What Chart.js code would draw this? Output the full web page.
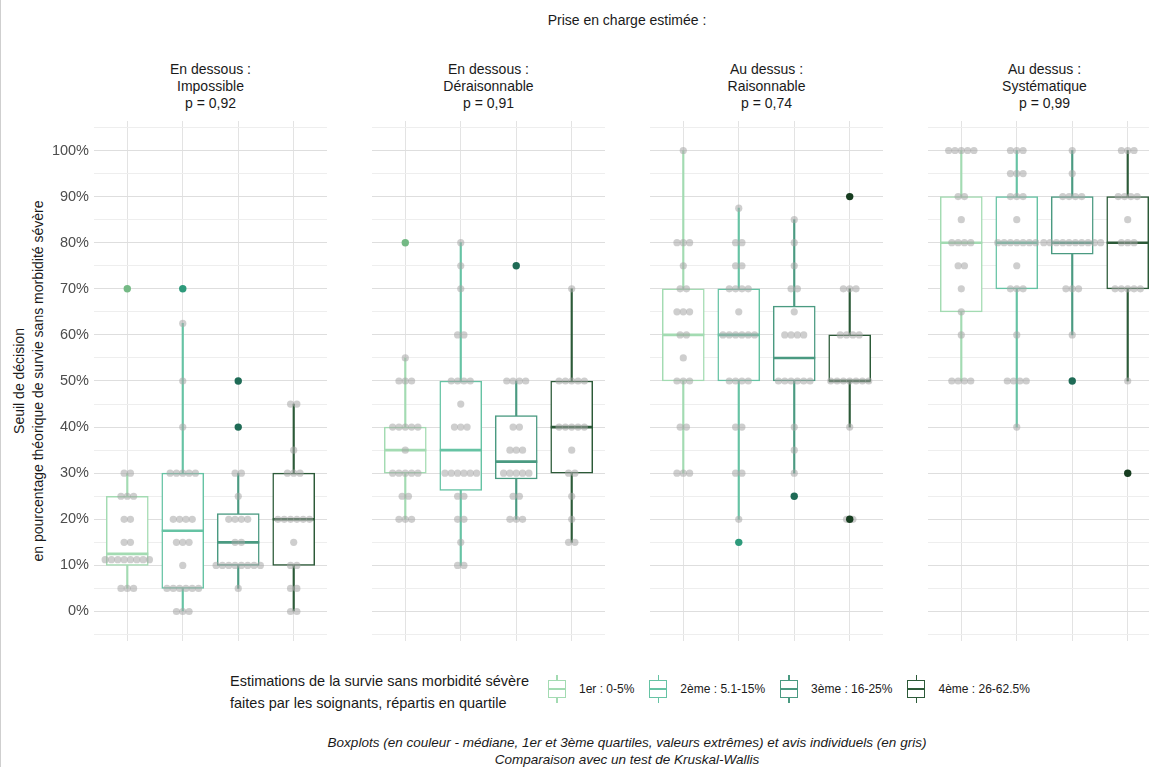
<!DOCTYPE html>
<html>
<head>
<meta charset="utf-8">
<script src="https://cdn.jsdelivr.net/npm/chart.js@4.4.1/dist/chart.umd.min.js"></script>
<style>
  html, body { margin: 0; padding: 0; }
  body {
    width: 1149px; height: 767px; overflow: hidden; position: relative;
    background: #fff; font-family: "Liberation Sans", Arial, sans-serif; color: #1a1a1a;
    border-left: 1px solid #cfcfcf; box-sizing: border-box;
  }
  canvas { position: absolute; top: 121px; }
  .txt { position: absolute; white-space: nowrap; }
  #title { left: 0; width: 1252px; top: 11px; text-align: center; font-size: 14px; line-height: 18px; }
  .strip { top: 61px; width: 233px; text-align: center; font-size: 14px; line-height: 17px; }
  #ytitle {
    left: 28px; top: 381px; font-size: 14px; line-height: 19px; text-align: center;
    transform: translate(-50%, -50%) rotate(-90deg);
  }
  #legtitle { left: 229px; top: 670px; font-size: 14.5px; line-height: 22px; }
  #legend { position: absolute; left: 547px; top: 674px; display: flex; align-items: center; height: 30px; white-space: nowrap; }
  .item { display: flex; align-items: center; margin-right: 15px; flex-shrink: 0; }
  .key { position: relative; width: 18px; min-width: 18px; height: 30px; margin-right: 13px; flex-shrink: 0; }
  .key .wh { position: absolute; left: 8.25px; width: 1.5px; top: 1px; bottom: 1px; }
  .key .bx { position: absolute; left: 0; right: 0; top: 6px; height: 18px; box-sizing: border-box; border: 1.5px solid; background: #fff; }
  .key .md { position: absolute; left: 0; right: 0; top: 14px; height: 2px; }
  .item span { font-size: 12px; color: #1a1a1a; }
  #caption { left: 0; width: 1252px; top: 734px; text-align: center; font-size: 13.5px; line-height: 17px; font-style: italic; }
</style>
</head>
<body>
<div id="title" class="txt">Prise en charge estimée :</div>
<div id="ytitle" class="txt">Seuil de décision<br>en pourcentage théorique de survie sans morbidité sévère</div>
<div id="legtitle" class="txt">Estimations de la survie sans morbidité sévère<br>faites par les soignants, répartis en quartile</div>
<div id="legend"></div>
<div id="caption" class="txt">Boxplots (en couleur - médiane, 1er et 3ème quartiles, valeurs extrêmes) et avis individuels (en gris)<br>Comparaison avec un test de Kruskal-Wallis</div>
<canvas id="panel0" width="326" height="520" style="left:0px"></canvas>
<canvas id="panel1" width="233" height="520" style="left:371px"></canvas>
<canvas id="panel2" width="233" height="520" style="left:649px"></canvas>
<canvas id="panel3" width="233" height="520" style="left:927px"></canvas>
<script>
// Groupes (quartiles d'estimation) et panneaux
const quartileLabels = ['1er : 0-5%', '2ème : 5.1-15%', '3ème : 16-25%', '4ème : 26-62.5%'];
const panelTitles = [['En dessous :', 'Impossible'], ['En dessous :', 'Déraisonnable'], ['Au dessus :', 'Raisonnable'], ['Au dessus :', 'Systématique']];
const pValues = ['p = 0,92', 'p = 0,91', 'p = 0,74', 'p = 0,99'];
const yTickValues = [0, 10, 20, 30, 40, 50, 60, 70, 80, 90, 100];

// Statistiques des boxplots : une ligne par panneau, une valeur par quartile
const whiskerLow  = [[5, 0, 5, 0], [20, 10, 20, 15], [30, 20, 30, 40], [50, 40, 60, 50]];
const q1          = [[10, 5, 10, 10], [30, 26.25, 28.75, 30], [50, 50, 50, 50], [65, 70, 77.5, 70]];
const median      = [[12.5, 17.5, 15, 20], [35, 35, 32.5, 40], [60, 60, 55, 50], [80, 80, 80, 80]];
const q3          = [[25, 30, 21.25, 30], [40, 50, 42.5, 50], [70, 70, 66.25, 60], [90, 90, 90, 90]];
const whiskerHigh = [[30, 62.5, 30, 45], [55, 80, 50, 70], [100, 87.5, 85, 70], [100, 100, 100, 100]];
const outliers    = [[[70], [70], [50, 40], []], [[80], [], [75], []], [[], [15], [25], [90, 20]], [[], [], [50], [30]]];

// Avis individuels : [valeur, nombre d'avis]
const dotsImpossible = [
  [[30, 2], [25, 3], [20, 2], [15, 2], [11.25, 8], [5, 3]],
  [[62.5, 1], [50, 1], [40, 1], [30, 5], [20, 4], [15, 3], [10, 1], [5, 6], [0, 3]],
  [[30, 2], [25, 1], [20, 4], [15, 2], [10, 8], [5, 1]],
  [[45, 2], [35, 1], [30, 3], [20, 6], [15, 1], [10, 2], [5, 2], [0, 2]]
];
const dotsDeraisonnable = [
  [[55, 1], [50, 3], [40, 5], [35, 1], [30, 5], [25, 2], [20, 3]],
  [[80, 1], [75, 1], [70, 1], [60, 2], [50, 4], [45, 1], [40, 3], [30, 6], [25, 2], [20, 2], [15, 1], [10, 2]],
  [[50, 4], [40, 2], [35, 3], [30, 5], [25, 2], [20, 3]],
  [[70, 1], [50, 5], [40, 5], [35, 1], [30, 2], [25, 1], [20, 1], [15, 2]]
];
const dotsRaisonnable = [
  [[100, 1], [80, 3], [75, 1], [70, 2], [65, 3], [60, 2], [55, 1], [50, 3], [40, 2], [30, 3]],
  [[87.5, 1], [80, 2], [75, 2], [70, 4], [65, 1], [60, 6], [50, 4], [40, 2], [30, 2], [20, 1]],
  [[85, 1], [80, 1], [75, 1], [70, 2], [65, 1], [60, 4], [50, 6], [40, 1], [35, 1], [30, 1]],
  [[70, 3], [60, 4], [50, 7], [40, 1], [20, 2]]
];
const dotsSystematique = [
  [[100, 5], [90, 2], [85, 1], [80, 4], [75, 2], [70, 1], [65, 1], [60, 1], [50, 4]],
  [[100, 3], [95, 3], [90, 3], [85, 1], [80, 7], [75, 1], [70, 3], [60, 1], [50, 4], [40, 1]],
  [[100, 1], [95, 1], [90, 4], [80, 10], [70, 3], [60, 1]],
  [[100, 3], [90, 4], [85, 1], [80, 3], [70, 5], [50, 1]]
];
const allDots = [dotsImpossible, dotsDeraisonnable, dotsRaisonnable, dotsSystematique];

const boxColors = ['#a3dbb2', '#66c3a4', '#4a9a81', '#2c5a38'];
const outlierColors = ['#74b985', '#2e9a7b', '#1f6b56', '#173d20'];
const panelLefts = [93, 371, 649, 927];
const font = '"Liberation Sans", Arial, sans-serif';
const dotStep = 0.114; // écart horizontal entre avis empilés (unités de l'axe x)

// Titres des panneaux
panelTitles.forEach((t, p) => {
  const div = document.createElement('div');
  div.className = 'txt strip';
  div.style.left = panelLefts[p] + 'px';
  div.innerHTML = t[0] + '<br>' + t[1] + '<br>' + pValues[p];
  document.body.appendChild(div);
});

// Légende
const legend = document.getElementById('legend');
quartileLabels.forEach((label, g) => {
  const item = document.createElement('div');
  item.className = 'item';
  const c = boxColors[g];
  item.innerHTML = `<div class="key"><div class="wh" style="background:${c}"></div>` +
    `<div class="bx" style="border-color:${c}"></div><div class="md" style="background:${c}"></div></div>` +
    `<span>${label}</span>`;
  legend.appendChild(item);
});

function buildPanel(p) {
  const ctx = document.getElementById('panel' + p).getContext('2d');
  const groups = [1, 2, 3, 4];

  const dotPoints = [];
  allDots[p].forEach((stacks, g) => {
    stacks.forEach(([v, n]) => {
      for (let i = 0; i < n; i++) {
        dotPoints.push({ x: g + 1 + (i - (n - 1) / 2) * dotStep, y: v });
      }
    });
  });

  const outPoints = [];
  const outColors = [];
  outliers[p].forEach((vals, g) => {
    vals.forEach(v => { outPoints.push({ x: g + 1, y: v }); outColors.push(outlierColors[g]); });
  });

  new Chart(ctx, {
    type: 'bar',
    data: {
      datasets: [
        {
          type: 'scatter',
          data: outPoints,
          pointRadius: 3.7,
          pointBackgroundColor: outColors,
          pointBorderWidth: 0,
          order: 0
        },
        {
          type: 'scatter',
          data: dotPoints,
          pointRadius: 3.6,
          pointBackgroundColor: 'rgba(165,165,165,0.55)',
          pointBorderWidth: 0,
          order: 1
        },
        {
          type: 'scatter',
          data: groups.map((x, g) => ({ x: x, y: median[p][g] })),
          pointStyle: 'line',
          pointRadius: 21,
          pointBorderWidth: 2.6,
          pointBorderColor: boxColors,
          order: 2
        },
        {
          type: 'bar',
          data: groups.map((x, g) => ({ x: x, y: [q1[p][g], q3[p][g]] })),
          backgroundColor: '#ffffff',
          borderColor: boxColors,
          borderWidth: 1.5,
          borderSkipped: false,
          barThickness: 42,
          grouped: false,
          order: 3
        },
        {
          type: 'bar',
          data: groups.map((x, g) => ({ x: x, y: [whiskerLow[p][g], whiskerHigh[p][g]] })),
          backgroundColor: boxColors,
          borderWidth: 0,
          barThickness: 1.5,
          grouped: false,
          order: 4
        }
      ]
    },
    options: {
      responsive: false,
      animation: false,
      events: [],
      layout: { padding: 0, autoPadding: false },
      plugins: { legend: { display: false }, tooltip: { enabled: false } },
      scales: {
        x: {
          type: 'linear', min: 0.4, max: 4.6, offset: false,
          ticks: { display: false, stepSize: 1, includeBounds: false },
          grid: { color: '#e3e3e3', drawTicks: false, offset: false },
          border: { display: false },
          afterFit: s => { s.height = 0; }
        },
        y: {
          type: 'linear', min: -6.4, max: 106.4,
          ticks: {
            display: p === 0, stepSize: 5, includeBounds: false, padding: 5,
            color: '#4d4d4d', font: { family: font, size: 14.5 },
            callback: v => yTickValues.includes(v) ? v + '%' : ''
          },
          grid: {
            drawTicks: false,
            color: c => c.tick.value % 10 === 0 ? '#dedede' : '#eeeeee',
            lineWidth: c => c.tick.value % 10 === 0 ? 1.1 : 1
          },
          border: { display: false },
          afterFit: s => { s.width = p === 0 ? 93 : 0; s.paddingTop = 0; s.paddingBottom = 0; }
        }
      }
    }
  });
}

[0, 1, 2, 3].forEach(buildPanel);
</script>
</body>
</html>
